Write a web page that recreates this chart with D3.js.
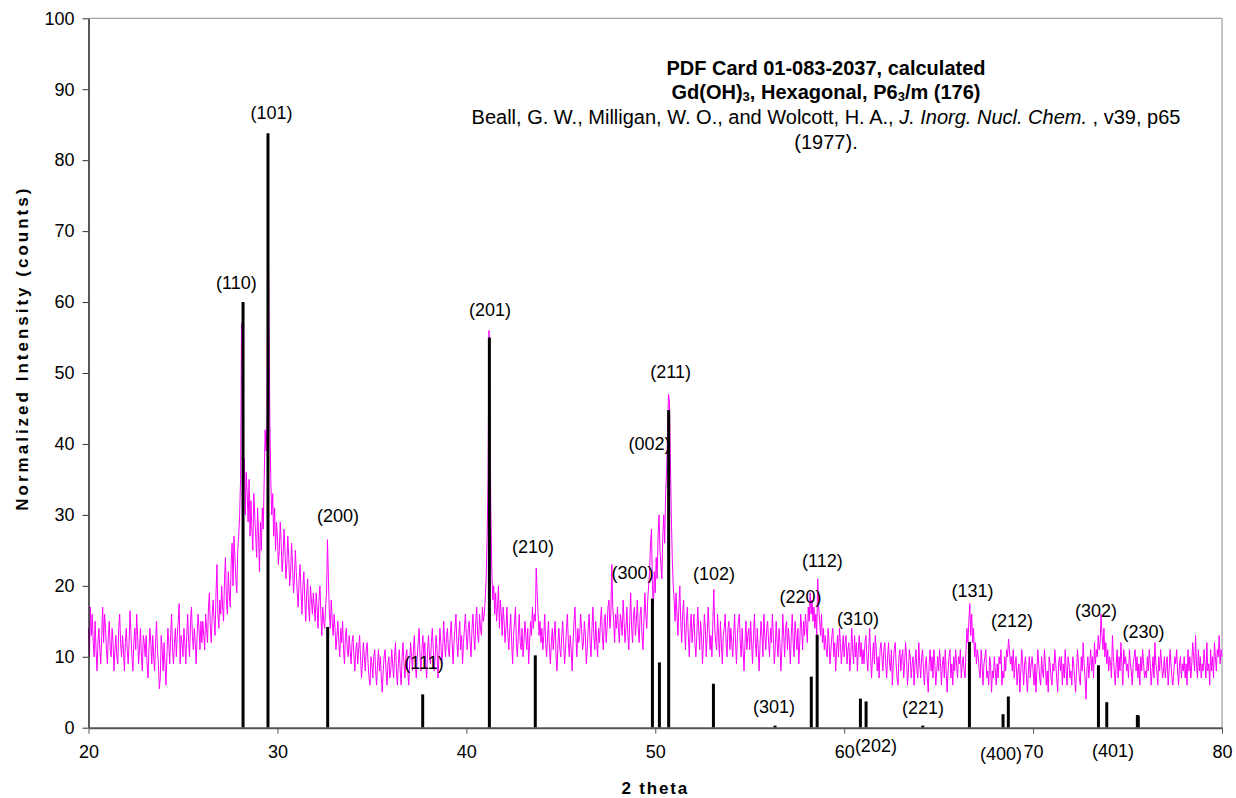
<!DOCTYPE html>
<html>
<head>
<meta charset="utf-8">
<script src="https://cdn.jsdelivr.net/npm/d3@7"></script>
<style>
  body { margin: 0; background: #fff; }
  svg { display: block; }
  text { font-family: "Liberation Sans", Arial, sans-serif; fill: #000; }
</style>
</head>
<body>
<svg id="chart" width="1236" height="798"></svg>
<script>
// Measured scan: 2-theta from 20 to 80 deg in 0.05 deg steps, one row per degree
const scanStart = 20;
const scanStep = 0.05;
const scanCounts = [
  14, 10, 17, 13, 16, 12, 10, 15, 11, 8, 12, 14, 11, 9, 13, 17, 12, 16, 14, 11,
  9, 13, 15, 11, 10, 14, 12, 8, 11, 13, 10, 9, 14, 16, 12, 10, 13, 11, 8, 12,
  14, 11, 9, 12, 16.5, 13, 10, 8, 12, 14, 11, 16, 13, 9, 11, 14, 10, 8, 13, 12,
  10, 13, 9, 7, 11, 14, 12, 9, 13, 10, 8, 12, 15, 11, 9, 5.5, 7, 13, 11, 8,
  12, 9, 6, 10, 14, 12, 9, 13, 16, 11, 9, 12, 14, 10, 13, 15, 17.5, 9, 13, 12,
  10, 14, 12, 9, 13, 16, 12, 10, 15, 17, 13, 11, 14, 12, 9, 13, 16, 14, 11, 15,
  12, 15, 13, 11, 16, 14, 12, 17, 19, 14, 12, 16, 18, 15, 13, 19, 23, 16, 14, 18,
  16, 20, 17, 15, 21, 24, 18, 16, 22, 19, 17, 23, 26, 20, 27, 24, 21, 19, 25, 27,
  30, 35, 57, 48, 33, 38, 30, 36, 33, 29, 35, 27, 32, 28, 25, 33, 30, 27, 24, 31,
  27, 22, 29, 25, 31, 28, 35, 42, 39, 43, 75, 60, 43, 35, 30, 33, 27, 31, 25, 29,
  27, 23, 25, 29, 26, 22, 24, 28, 25, 21, 23, 27, 24, 20, 22, 26, 23, 19, 21, 25,
  22, 19, 17, 21, 23, 19, 16, 20, 22, 18, 15, 19, 21, 17, 15, 20, 18, 16, 19, 17,
  15, 19, 17, 14, 18, 20, 16, 13, 17, 15, 14, 17, 19, 26.5, 21, 16, 14, 18, 15, 13,
  16, 14, 11, 13, 15, 12, 10, 14, 12, 15, 11, 9, 13, 14, 11, 10, 13, 11, 9, 12,
  13, 10, 8, 11, 12, 9, 11, 13, 10, 7, 9, 12, 10, 8, 11, 12, 9, 7, 6, 10,
  9, 7, 10, 11, 8, 6, 9, 11, 8, 10, 7, 5, 8, 10, 11, 8, 6, 9, 10, 7,
  8, 11, 9, 7, 10, 12, 8, 6, 9, 11, 8, 6, 10, 12, 9, 7, 10, 11, 8, 6,
  9, 12, 10, 8, 11, 13, 9, 7, 10, 12, 14, 10, 8, 11, 13, 10, 12, 9, 7, 11,
  13, 10, 9, 12, 14, 11, 8, 10, 13, 11, 7, 10, 14, 12, 9, 11, 15, 12, 10, 13,
  14, 11, 10, 13, 15, 12, 9, 12, 14, 16, 12, 10, 13, 15, 11, 13, 9, 12, 14, 16,
  13, 11, 14, 15, 12, 10, 14, 16, 13, 11, 15, 17, 13, 12, 16, 14, 13, 17, 15, 16,
  18, 21, 27, 35, 56, 45, 30, 22, 18, 20, 16, 19, 15, 17, 20, 14, 18, 16, 13, 17,
  15, 12, 14, 17, 13, 11, 14, 16, 12, 9, 13, 15, 17, 12, 10, 13, 16, 12, 11, 14,
  10, 12, 15, 13, 11, 14, 9, 12, 15, 13, 17, 14, 16, 15, 22.5, 19, 16, 13, 15, 12,
  14, 11, 13, 16, 12, 10, 13, 15, 11, 9, 12, 14, 11, 13, 15, 10, 8, 12, 14, 11,
  10, 13, 15, 12, 9, 11, 14, 16, 12, 10, 13, 11, 8, 12, 15, 17, 13, 10, 14, 12,
  13, 16, 14, 11, 12, 15, 13, 9, 11, 14, 16, 12, 10, 14, 17, 13, 11, 15, 12, 10,
  14, 12, 15, 17, 13, 11, 15, 16, 12, 14, 17, 18, 14, 16, 23, 17, 15, 12, 16, 14,
  17, 14, 12, 16, 15, 13, 18, 15, 12, 14, 17, 13, 11, 15, 19, 14, 12, 16, 17, 13,
  15, 18, 14, 12, 16, 17, 13, 11, 15, 19, 16, 14, 18, 20, 22, 26, 28, 20, 17, 22,
  19, 24, 21, 27, 30, 25, 23, 21, 27, 30, 26, 33, 36, 41, 47, 46, 38, 30, 24, 20,
  18, 15, 19, 16, 13, 17, 20, 15, 12, 16, 18, 14, 11, 15, 17, 13, 10, 14, 16, 12,
  14, 16, 12, 10, 13, 17, 14, 11, 15, 13, 9, 12, 16, 14, 10, 13, 17, 14, 11, 13,
  10, 15, 19.5, 14, 12, 11, 16, 13, 10, 15, 12, 9, 13, 14, 16, 12, 10, 14, 15, 11,
  14, 12, 10, 13, 16, 12, 9, 13, 15, 16, 12, 10, 14, 11, 8, 12, 15, 11, 13, 14,
  11, 15, 12, 9, 13, 16, 12, 10, 14, 11, 8, 12, 15, 13, 10, 16, 13, 11, 14, 15,
  12, 10, 14, 12, 16, 13, 9, 11, 15, 12, 10, 14, 12, 8, 11, 16, 13, 10, 14, 15,
  11, 14, 12, 9, 13, 16, 12, 10, 15, 13, 11, 14, 9, 12, 16, 14, 11, 15, 13, 16,
  14, 12, 17, 15, 19, 16, 18, 15, 17, 14, 16, 13, 21, 17, 15, 13, 16, 12, 14, 11,
  13, 11, 10, 14, 12, 9, 11, 13, 14, 10, 12, 8, 11, 13, 10, 14, 12, 9, 11, 13,
  10, 12, 13, 9, 11, 12, 8, 10, 14, 11, 9, 13, 10, 12, 8, 11, 13, 10, 12, 9,
  11, 9, 12, 13, 10, 8, 11, 14, 10, 7, 10, 12, 9, 13, 11, 8, 10, 7, 11, 12,
  10, 8, 11, 12, 9, 7, 10, 12, 9, 8, 11, 6, 9, 11, 12, 9, 7, 6, 10, 11,
  8, 10, 11, 7, 9, 12, 10, 6, 8, 11, 10, 7, 9, 10, 6, 9, 11, 8, 7, 12,
  9, 7, 10, 11, 8, 6, 9, 10, 7, 5, 9, 11, 8, 10, 7, 11, 9, 6, 8, 10,
  8, 11, 9, 6, 9, 10, 7, 11, 8, 5, 8, 10, 11, 7, 9, 6, 10, 8, 11, 9,
  7, 10, 9, 11, 7, 9, 10, 8, 7, 11, 14, 12, 15, 17.5, 13, 16, 12, 14, 10, 12,
  9, 11, 10, 8, 7, 11, 9, 6, 9, 10, 11, 7, 8, 6, 10, 9, 5, 8, 7, 10,
  8, 6, 9, 7, 10, 9, 11, 6, 8, 7, 10, 8, 11, 10, 12.5, 11, 9, 10, 8, 11,
  7, 9, 10, 6, 8, 9, 5, 8, 11, 9, 6, 9, 10, 7, 5, 8, 10, 7, 9, 10,
  8, 6, 9, 5, 8, 11, 9, 7, 6, 10, 8, 7, 11, 9, 6, 8, 5, 10, 9, 7,
  6, 9, 8, 11, 9, 7, 5, 9, 10, 8, 10, 6, 9, 7, 11, 8, 6, 10, 9, 7,
  8, 6, 10, 9, 7, 5, 8, 11, 9, 7, 6, 10, 8, 12, 9, 7, 4, 8, 10, 7,
  9, 11, 8, 10, 7, 12, 9, 11, 10, 13, 11, 12, 16, 13, 11, 14, 10, 12, 9, 11,
  8, 10, 9, 7, 13, 10, 8, 6, 9, 11, 7, 10, 8, 12, 9, 6, 11, 9, 10, 8,
  9, 7, 11, 9, 8, 6, 9, 10, 11, 8, 10, 7, 9, 6, 10, 8, 11, 9, 7, 8,
  7, 10, 8, 11, 9, 6, 8, 10, 7, 12, 9, 8, 6, 10, 8, 11, 9, 7, 8, 10,
  7, 9, 10, 6, 8, 11, 9, 7, 6, 8, 10, 9, 11, 8, 6, 9, 10, 7, 9, 8,
  10, 7, 9, 6, 11, 8, 10, 7, 9, 12, 10, 8, 13, 9, 7, 11, 8, 10, 7, 9,
  8, 11, 9, 7, 12, 8, 9, 6, 11, 8, 10, 7, 12, 10, 8, 11, 10, 13, 9, 11,
  10
];

// Reference pattern lines (PDF 01-083-2037): position, relative intensity
const refPos = [28.18, 29.50, 32.66, 37.69, 41.22, 43.65, 49.85, 50.22, 50.71, 53.08, 56.34,
                58.26, 58.57, 60.86, 61.16, 64.16, 66.63, 68.41, 68.69, 73.46, 73.90, 75.52, 75.57];
const refInt = [60, 83.8, 14.2, 4.7, 55.0, 10.2, 18.2, 9.2, 44.8, 6.2, 0.3,
                7.2, 13.1, 4.1, 3.7, 0.3, 12.1, 1.9, 4.4, 8.8, 3.6, 1.8, 1.7];

// Miller-index annotations, anchored in data units (2-theta, intensity)
const hklNames = ["(110)", "(101)", "(200)", "(111)", "(201)", "(210)", "(300)", "(002)", "(211)", "(102)", "(301)",
                  "(220)", "(112)", "(310)", "(202)", "(221)", "(131)", "(400)", "(212)", "(302)", "(401)", "(230)"];
const hklX = [27.83, 29.69, 33.21, 37.76, 41.25, 43.53, 48.80, 49.70, 50.81, 53.11, 56.29,
              57.69, 58.85, 60.73, 61.68, 64.17, 66.79, 68.30, 68.88, 73.33, 74.23, 75.84];
const hklY = [62.7, 86.6, 29.8, 9.1, 58.9, 25.5, 21.8, 40.0, 50.1, 21.7, 2.9,
              18.4, 23.5, 15.3, -2.6, 2.8, 19.2, -3.7, 15.0, 16.5, -3.3, 13.5];

const xTicks = [20, 30, 40, 50, 60, 70, 80];
const yTicks = [0, 10, 20, 30, 40, 50, 60, 70, 80, 90, 100];

const svg = d3.select("#chart");
const x = d3.scaleLinear().domain([20, 80]).range([88.5, 1222]);
const y = d3.scaleLinear().domain([0, 100]).range([727.7, 18.3]);

// plot frame: grey top and right edges
svg.append("line").attr("x1", x(20)).attr("x2", x(80)).attr("y1", y(100)).attr("y2", y(100))
  .attr("stroke", "#8c8c8c").attr("stroke-width", 1);
svg.append("line").attr("x1", x(80)).attr("x2", x(80)).attr("y1", y(100)).attr("y2", y(0))
  .attr("stroke", "#8c8c8c").attr("stroke-width", 1);

// measured scan
const line = d3.line()
  .x((d, i) => x(scanStart + i * scanStep))
  .y(d => y(d));
svg.append("path").datum(scanCounts)
  .attr("d", line)
  .attr("fill", "none")
  .attr("stroke", "#ff00ff")
  .attr("stroke-width", 1)
  .attr("stroke-linejoin", "round");

// reference sticks
svg.append("g").selectAll("line").data(refPos).join("line")
  .attr("x1", d => x(d)).attr("x2", d => x(d))
  .attr("y1", y(0)).attr("y2", (d, i) => y(refInt[i]))
  .attr("stroke", "#000").attr("stroke-width", 3);

// axes
const yAxis = svg.append("g").attr("transform", `translate(${x(20)},0)`)
  .call(d3.axisLeft(y).tickValues(yTicks).tickSize(6).tickPadding(8).tickSizeOuter(0));
yAxis.select(".domain").attr("stroke", "#000").attr("stroke-width", 1.3);
yAxis.selectAll(".tick line").attr("stroke", "#333");
yAxis.selectAll(".tick text").attr("font-size", 18).attr("font-family", "Liberation Sans, Arial, sans-serif");

const xAxis = svg.append("g").attr("transform", `translate(0,${y(0)})`)
  .call(d3.axisBottom(x).tickValues(xTicks).tickSize(6).tickPadding(12).tickSizeOuter(0));
xAxis.select(".domain").attr("stroke", "#555").attr("stroke-width", 2);
xAxis.selectAll(".tick line").attr("stroke", "#555");
xAxis.selectAll(".tick text").attr("font-size", 18).attr("font-family", "Liberation Sans, Arial, sans-serif");

// hkl labels
svg.append("g").selectAll("text").data(hklNames).join("text")
  .attr("x", (d, i) => x(hklX[i]))
  .attr("y", (d, i) => y(hklY[i]))
  .attr("text-anchor", "middle")
  .attr("dominant-baseline", "central")
  .attr("font-size", 18)
  .text(d => d);

// axis titles
svg.append("text")
  .attr("x", x(50)).attr("y", 794)
  .attr("text-anchor", "middle")
  .attr("font-size", 17).attr("font-weight", "bold")
  .attr("letter-spacing", 1.8)
  .text("2 theta");

svg.append("text")
  .attr("transform", `translate(28,${y(53.5)}) rotate(-90)`)
  .attr("text-anchor", "middle")
  .attr("font-size", 17).attr("font-weight", "bold")
  .attr("letter-spacing", 3)
  .text("Normalized Intensity (counts)");

// card header
const cx = 826;
svg.append("text").attr("x", cx).attr("y", 75).attr("text-anchor", "middle")
  .attr("font-size", 20).attr("font-weight", "bold")
  .text("PDF Card 01-083-2037, calculated");

const t2 = svg.append("text").attr("x", cx).attr("y", 99).attr("text-anchor", "middle")
  .attr("font-size", 20).attr("font-weight", "bold");
t2.append("tspan").text("Gd(OH)");
t2.append("tspan").attr("font-size", 13).attr("dy", 2).text("3");
t2.append("tspan").attr("dy", -2).text(", Hexagonal, P6");
t2.append("tspan").attr("font-size", 13).attr("dy", 2).text("3");
t2.append("tspan").attr("dy", -2).text("/m (176)");

const t3 = svg.append("text").attr("x", cx).attr("y", 124).attr("text-anchor", "middle")
  .attr("font-size", 20);
t3.append("tspan").text("Beall, G. W., Milligan, W. O., and Wolcott, H. A., ");
t3.append("tspan").attr("font-style", "italic").text("J. Inorg. Nucl. Chem.");
t3.append("tspan").text(" , v39, p65");

svg.append("text").attr("x", cx).attr("y", 149).attr("text-anchor", "middle")
  .attr("font-size", 20)
  .text("(1977).");
</script>
</body>
</html>
